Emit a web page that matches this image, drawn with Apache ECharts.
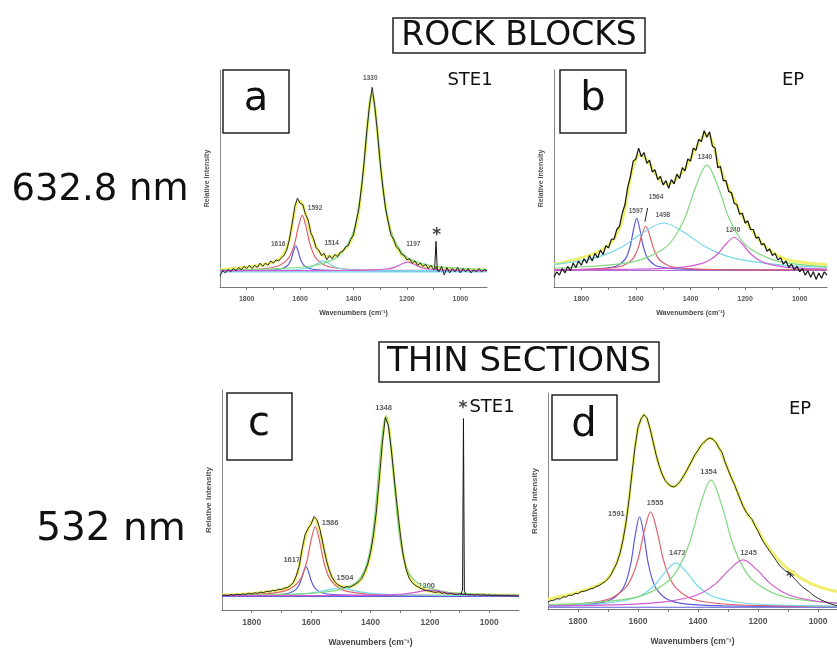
<!DOCTYPE html>
<html>
<head>
<meta charset="utf-8">
<title>Raman spectra - rock blocks and thin sections</title>
<script src="https://cdn.jsdelivr.net/npm/echarts@6/dist/echarts.min.js"></script>
<style>
html, body { margin:0; padding:0; background:#fff; }
#main { width:837px; height:652px; }
</style>
</head>
<body>
<div id="main"></div>
<script>
// wavenumbers of the measured spectra (cm-1)
var wn = [1900,1890,1880,1870,1860,1850,1840,1830,1820,1810,1800,1790,1780,1770,1760,1750,1740,1730,1720,1710,
  1700,1690,1680,1670,1660,1650,1640,1630,1620,1610,1600,1590,1580,1570,1560,1550,1540,1530,1520,1510,
  1500,1490,1480,1470,1460,1450,1440,1430,1420,1410,1400,1390,1380,1370,1360,1350,1340,1330,1320,1310,
  1300,1290,1280,1270,1260,1250,1240,1230,1220,1210,1200,1190,1180,1170,1160,1150,1140,1130,1120,1110,
  1100,1090,1080,1070,1060,1050,1040,1030,1020,1010,1000,990,980,970,960,950,940,930,920,910,900];
var tickMajor = [1000,1200,1400,1600,1800];
var tickAll = [1000,1100,1200,1300,1400,1500,1600,1700,1800];

// ---- a : rock block STE1, 632.8 nm ----
var specA = [5,7.5,6.5,8,7,8.5,7.5,9,8,9.5, 8.5,10,8.5,10,9,11,9.5,11,10,12,
  11,12.5,12,13.5,14.5,17,22,29,37,41, 38.5,38,33.5,31,25,22.5,18,17,14.5,15.5,
  12.5,14.5,13,15,14,16,16.5,18.5,19,22, 24,30,36,46,58,72,84,92,83,71,
  57,46,36,30,24,22,18.5,17.5,15,14.5, 12.5,13,11,12,10,11,9.5,10.5,8.5,10,
  8,9,7,9.5,5.5,9,6.5,8.5,7,9, 6.5,8.5,7,8.5,6.5,8,7,8.5,7,8, 7.5];
var spikeA = [[1096,8.6],[1091,21],[1086,7.5]];
var fitA = [[1900,8],[1850,8.6],[1800,9.2],[1750,10],[1700,11.5],[1680,12.8],[1660,15.5],[1640,22],[1625,32],[1612,39],
  [1600,39.5],[1590,37.5],[1575,32],[1560,25],[1540,18.5],[1520,15],[1500,14],[1480,14],[1460,15],[1440,16.5],
  [1420,19],[1400,24],[1380,35],[1360,57],[1345,78],[1332,89],[1320,83],[1305,64],[1290,46],[1270,30],
  [1250,21.5],[1230,16.5],[1200,13],[1170,11],[1140,9.8],[1100,9],[1050,8.4],[1000,8.1],[950,7.9],[900,7.8]];
var baseA = [[1900,7],[900,7]];
var a1616 = [[1900,7.55],[1776,7.61],[1712,7.81],[1680,8.18],[1664,8.65],[1648,9.8],[1640,11.04],[1632,13.25],[1624,16.7],[1616,19],
  [1608,16.7],[1600,13.25],[1592,11.04],[1584,9.8],[1568,8.65],[1552,8.18],[1520,7.81],[1456,7.61],[900,7.5]];
var a1592 = [[1900,7.8],[1760,8.19],[1704,9],[1676,10.05],[1648,12.6],[1634,15.35],[1620,20.25],[1606,27.9],[1592,33],
  [1578,27.9],[1564,20.25],[1550,15.35],[1536,12.6],[1508,10.05],[1480,9],[1424,8.19],[1312,7.75],[900,7.55]];
var a1514 = [[1900,7.53],[1724,7.62],[1654,7.76],[1619,7.95],[1584,8.4],[1566,8.88],[1549,9.75],[1531,11.1],[1514,12],
  [1496,11.1],[1479,9.75],[1461,8.88],[1444,8.4],[1409,7.95],[1374,7.76],[1304,7.62],[1164,7.54],[900,7.52]];
var a1330 = [[1900,7.9],[1710,8.3],[1558,9.69],[1482,12.26],[1444,15.6],[1406,23.7],[1387,32.4],[1368,48],[1349,72.3],[1330,88.5],
  [1311,72.3],[1292,48],[1273,32.4],[1254,23.7],[1216,15.6],[1178,12.26],[1102,9.69],[950,8.3],[900,8.1]];
var a1197 = [[1900,7.52],[1597,7.54],[1437,7.61],[1357,7.74],[1317,7.9],[1277,8.3],[1257,8.73],[1237,9.5],[1217,10.7],[1197,11.5],
  [1177,10.7],[1157,9.5],[1137,8.73],[1117,8.3],[1077,7.9],[1037,7.74],[957,7.61],[900,7.56]];
var labA = [[1337,96,'1330'],[1544,36.3,'1592'],[1682,19.7,'1616'],[1482,20.1,'1514'],[1176,19.7,'1197']];
var starA = [[1088,25.5]];

// ---- b : rock block EP, 632.8 nm ----
var specB = [4.5,7,5.5,8.5,6.5,9.5,7.5,11,9,12, 10,13,11,14.5,12,15.5,13.5,17,15,19,
  18,22,22,26.5,28,34,38,46,51,58, 59,64,60,62,57,58.5,53,54,49.5,51,
  47,49,45.5,49.5,47.5,52,50,55,53.5,59, 58,64,63,68,67,72,69,71.5,65,64,
  55,55.5,49,49,44,43.5,38.5,38,33.5,34, 29.5,30.5,26.5,26.5,22.5,23,19.5,20,16.5,17.5,
  14.5,15.5,12.5,13.5,10.5,12,9,10.5,8,9.5, 7,8.5,5.5,7.5,4.5,7,3.5,6.5,4,7, 5.5];
var fitB = [[1900,10.5],[1850,11.8],[1800,13.5],[1760,15],[1720,17.5],[1690,20.5],[1660,27],[1640,36],[1620,50],[1600,59],
  [1585,61],[1570,60],[1550,57],[1530,52.5],[1510,49],[1490,47.5],[1470,48],[1450,50],[1420,54.5],[1400,59],
  [1380,64],[1360,68.5],[1340,70.5],[1320,67],[1300,58],[1280,51],[1260,45.5],[1240,40.5],[1220,35],[1200,30.5],
  [1180,27],[1160,23.5],[1140,20.5],[1120,18],[1100,16],[1080,14.5],[1050,12.8],[1000,11.5],[950,10.8],[900,10.3]];
var baseB = [[1900,7.6],[900,7.6]];
var b1597 = [[1900,7.95],[1817,8.04],[1729,8.44],[1685,9.2],[1663,10.18],[1641,12.56],[1630,15.12],[1619,19.7],[1608,26.84],[1597,31.6],
  [1586,26.84],[1575,19.7],[1564,15.12],[1553,12.56],[1531,10.18],[1509,9.2],[1465,8.44],[1377,8.04],[900,7.82]];
var b1564 = [[1900,7.95],[1844,8],[1732,8.35],[1676,8.99],[1648,9.82],[1620,11.84],[1606,14],[1592,17.9],[1578,23.96],[1564,28],
  [1550,23.96],[1536,17.9],[1522,14],[1508,11.84],[1480,9.82],[1452,8.99],[1396,8.35],[1284,8],[900,7.85]];
var b1498 = [[1900,10.4],[1798,12.14],[1723,14.48],[1648,18.65],[1573,25.16],[1498,29.5],[1423,25.16],[1348,18.65],[1273,14.48],
  [1198,12.14],[1048,9.97],[900,9.1]];
var b1340 = [[1900,8.75],[1820,9.11],[1660,10.65],[1580,12.64],[1500,17.5],[1460,22.7],[1420,32],[1380,46.5],[1340,56.2],
  [1300,46.5],[1260,32],[1220,22.7],[1180,17.5],[1100,12.64],[1020,10.65],[900,9.3]];
var b1240 = [[1900,7.85],[1840,7.95],[1600,8.2],[1480,8.68],[1420,9.3],[1360,10.8],[1330,12.4],[1300,15.3],[1270,19.8],[1240,22.8],
  [1210,19.8],[1180,15.3],[1150,12.4],[1120,10.8],[1060,9.3],[1000,8.68],[900,8.3]];
var labB = [[1600,35,'1597'],[1526,41.5,'1564'],[1501,33,'1498'],[1347,60,'1340'],[1244,26,'1240']];
var slashB = [[1557,36.4],[1567,30.1]];

// ---- c : thin section STE1, 532 nm ----
var specC = [6.5,6.8,6.4,7,6.7,7.2,6.9,7.3,7.1,7.6, 7.3,7.8,7.6,8.1,7.9,8.5,8.3,8.9,8.8,9.4,
  9.3,9.9,10.2,11,12.5,15.5,20,28,34.5,37, 39,42.5,41,36.5,30,23.5,18.5,15,12.8,11.5,
  10.8,10.2,10.6,10.3,11,11.8,12.8,14.2,17,20.5, 26,34,45,60,76,87.5,84,73,60,47,
  35,25,18.5,14.5,12.5,11.3,10.5,9.8,9.2,8.8, 8.6,8.2,8,8.3,7.6,7.8,7.3,7.5,7.2,7.1,
  7.3,7.1,7.2,6.9,7,6.8,7,6.7,6.9,6.6, 6.8,6.5,6.7,6.5,6.6,6.4,6.6,6.4,6.5,6.3, 6.4];
var spikeC = [[1096,7.3],[1090,9],[1087,87],[1084,9],[1080,7.2]];
var fitC = [[1900,6.8],[1800,7.5],[1720,8.8],[1680,10.2],[1660,12.5],[1645,17],[1630,27],[1615,35],[1600,39.5],[1588,41.5],
  [1575,38],[1560,30],[1545,21],[1530,15],[1515,12],[1500,10.8],[1480,10.5],[1460,11],[1440,12.6],[1420,16.5],
  [1400,25],[1385,38],[1370,60],[1358,80],[1348,88],[1338,83],[1325,66],[1310,46],[1295,29],[1280,19],
  [1265,14],[1245,11],[1220,9.3],[1190,8.3],[1150,7.7],[1100,7.3],[1000,6.9],[900,6.7]];
var baseC = [[1900,6.2],[900,6.2]];
var c1617 = [[1900,6.55],[1797,6.63],[1725,6.86],[1689,7.28],[1671,7.82],[1653,9.14],[1644,10.56],[1635,13.1],[1626,17.06],[1617,19.7],
  [1608,17.06],[1599,13.1],[1590,10.56],[1581,9.14],[1563,7.82],[1545,7.28],[1509,6.86],[1437,6.63],[900,6.5]];
var c1586 = [[1900,6.75],[1754,7.35],[1698,8.35],[1670,9.64],[1642,12.78],[1628,16.16],[1614,22.2],[1600,31.6],[1586,37.9],
  [1572,31.6],[1558,22.2],[1544,16.16],[1530,12.78],[1502,9.64],[1474,8.35],[1418,7.35],[1306,6.81],[900,6.55]];
var c1504 = [[1900,6.53],[1784,6.71],[1714,6.85],[1644,7.2],[1609,7.58],[1574,8.25],[1539,9.3],[1504,10],
  [1469,9.3],[1434,8.25],[1399,7.58],[1364,7.2],[1294,6.85],[1224,6.71],[1084,6.59],[900,6.53]];
var c1348 = [[1900,6.7],[1700,7.1],[1598,7.6],[1548,8.3],[1498,9.5],[1448,12.5],[1418,19],[1398,30],[1385,44],[1368,70],[1358,82],[1348,88],
  [1338,82],[1328,70],[1311,44],[1298,30],[1278,19],[1248,13],[1198,9.8],[1148,8.3],[1098,7.6],[996,7.1],[900,6.9]];
var c1200 = [[1900,6.51],[1560,6.57],[1440,6.65],[1380,6.75],[1320,7],[1290,7.27],[1260,7.75],[1230,8.5],[1200,9],
  [1170,8.5],[1140,7.75],[1110,7.27],[1080,7],[1020,6.75],[960,6.65],[900,6.6]];
var labC = [[1356,91.7,'1348'],[1536,39.4,'1586'],[1665,22.7,'1617'],[1486,14.4,'1504'],[1211,10.9,'1200']];
var starC = [[1089,93.6]];

// ---- d : thin section EP, 532 nm ----
var specD = [3.2,3.9,4.1,4.8,4.6,5.6,5.5,6.4,6.3,7.2, 7.1,8,8.2,8.6,9.3,9.5,10.4,10.8,11.8,12.6,
  14,15.8,18.6,21.5,25.8,32,40,50.5,63,75, 84,88,90,88.5,83.5,77.5,71.5,66.5,62.5,59.5,
  58,56.8,56.5,57.5,59,61.2,63.5,66.2,68.8,71.5, 73.5,75.8,77.2,78.5,79.2,78.5,77,74.5,72.5,68,
  64.5,61,58,54.5,51,47.5,45,43,41.5,38.5, 36,33,30.5,28.5,26.5,24.5,22.5,20.5,19,17.8,
  16.8,15.8,14.2,12.8,11.2,10,9,8,6.8,5.8, 5,4.2,3.6,2.9,2.5,2,1.6,1.2,0.9,0.7, 0.5];
var fitD = [[1900,4.5],[1850,6],[1800,7.8],[1750,10],[1720,12],[1700,14.3],[1680,18.8],[1660,26],[1640,40.5],[1620,63],
  [1600,84],[1580,89.8],[1560,83.5],[1540,71.5],[1520,62.5],[1500,58],[1480,56.6],[1460,59],[1440,63.5],[1420,68.8],
  [1400,73.5],[1380,77.2],[1360,79],[1340,77],[1320,71.5],[1300,64.5],[1280,58],[1260,51],[1240,45],[1220,41],
  [1200,36.5],[1180,31.5],[1160,27.5],[1140,24],[1120,21],[1100,18.5],[1080,16.5],[1060,14.5],[1040,13],[1020,11.5],
  [1000,10.5],[980,9.5],[960,8.8],[940,8.2],[920,7.7],[900,7.3]];
var baseD = [[1900,0.8],[900,0.8]];
var d1591 = [[1900,1.5],[1875,1.41],[1763,2.13],[1707,3.45],[1679,5.17],[1651,9.34],[1637,13.83],[1623,21.85],[1609,34.4],[1595,42.7],
  [1581,34.4],[1567,21.85],[1553,13.83],[1539,9.34],[1511,5.17],[1483,3.45],[1427,2.13],[1315,1.41],[900,1.1]];
var d1555 = [[1900,1.6],[1810,2.19],[1726,3.59],[1684,5.4],[1642,9.8],[1621,14.54],[1600,23],[1579,36.2],[1558,45],
  [1537,36.2],[1516,23],[1495,14.54],[1474,9.8],[1432,5.4],[1390,3.59],[1306,2.19],[1138,1.44],[900,1.2]];
var d1472 = [[1900,1.55],[1754,2.19],[1684,3.02],[1614,5.04],[1579,7.22],[1544,11.1],[1509,17.16],[1474,21.2],
  [1439,17.16],[1404,11.1],[1369,7.22],[1334,5.04],[1264,3.02],[1194,2.19],[1054,1.55],[900,1.3]];
var d1354 = [[1900,2],[1789,2.58],[1645,4.45],[1573,6.87],[1501,12.74],[1465,19.06],[1429,30.35],[1393,47.96],[1357,59.7],
  [1321,47.96],[1285,30.35],[1249,19.06],[1213,12.74],[1141,6.87],[1069,4.45],[925,2.58],[900,2.4]];
var d1245 = [[1900,1.5],[1790,1.59],[1610,2.28],[1520,3.17],[1430,5.34],[1385,7.68],[1340,11.85],[1295,18.36],[1250,22.7],
  [1205,18.36],[1160,11.85],[1115,7.68],[1070,5.34],[980,3.17],[900,2.45]];
var labD = [[1672,43.8,'1591'],[1543,49,'1555'],[1469,25.8,'1472'],[1365,63.3,'1354'],[1232,25.8,'1245']];
var starD = [[1092,16.5]];

var COL = {
    blue: '#5c5cd8', red: '#e2606c', cyan: '#74d8e8', green: '#80d880',
    mag: '#d25ad2', yellow: '#f0f070', base: '#b070d8'
};

// panel d runs off the right edge of the figure, so its axis stops at 937
var grids = [
    {left:220, top:70, width:267, height:217},
    {left:554, top:70, width:273, height:217},
    {left:222, top:390, width:297, height:220},
    {left:548, top:393, width:289, height:216}
];
var xMin = [900, 900, 900, 937];
var small = [true, true, false, false];

function pairs(vals) {
    return wn.map(function (w, i) { return [w, vals[i]]; });
}

function lineSeries(g, data, color, width, smooth) {
    return {
        type: 'line', xAxisIndex: g, yAxisIndex: g, data: data,
        symbol: 'none', smooth: smooth, silent: true,
        lineStyle: {color: color, width: width}
    };
}

function labelSeries(g, list, size) {
    return {
        type: 'scatter', xAxisIndex: g, yAxisIndex: g, symbolSize: 1, silent: true,
        itemStyle: {color: 'rgba(0,0,0,0)'},
        data: list.map(function (l) {
            return {value: [l[0], l[1]], label: {formatter: l[2]}};
        }),
        label: {show: true, position: 'inside', fontSize: size, fontWeight: 'bold',
            color: '#333', fontFamily: 'Liberation Sans'}
    };
}

function starSeries(g, list) {
    return {
        type: 'scatter', xAxisIndex: g, yAxisIndex: g, symbolSize: 1, silent: true,
        itemStyle: {color: 'rgba(0,0,0,0)'},
        data: list,
        label: {show: true, position: 'inside', formatter: '*', fontSize: 17, fontWeight: 'bold',
            color: '#111', fontFamily: 'DejaVu Sans', offset: [0, 4]}
    };
}

var panels = [
    {fit: fitA, comps: [[baseA, COL.cyan], [a1616, COL.blue], [a1592, COL.red], [a1514, COL.cyan], [a1330, COL.green], [a1197, COL.mag]],
        spec: specA, spike: spikeA, lab: labA, star: starA, w: 0.9},
    {fit: fitB, comps: [[baseB, COL.base], [b1597, COL.blue], [b1564, COL.red], [b1498, COL.cyan], [b1340, COL.green], [b1240, COL.mag]],
        spec: specB, spike: null, lab: labB, star: null, w: 1.2},
    {fit: fitC, comps: [[baseC, COL.blue], [c1617, COL.blue], [c1586, COL.red], [c1504, COL.cyan], [c1348, COL.green], [c1200, COL.mag]],
        spec: specC, spike: spikeC, lab: labC, star: starC, w: 0.9},
    {fit: fitD, comps: [[baseD, COL.blue], [d1591, COL.blue], [d1555, COL.red], [d1472, COL.cyan], [d1354, COL.green], [d1245, COL.mag]],
        spec: specD, spike: null, lab: labD, star: starD, w: 0.9}
];

var series = [];
panels.forEach(function (p, g) {
    series.push(lineSeries(g, p.fit, COL.yellow, 3, 0.3));
    p.comps.forEach(function (c) {
        series.push(lineSeries(g, c[0], c[1], 1.2, 0.35));
    });
    series.push(lineSeries(g, pairs(p.spec), '#151515', p.w, false));
    if (p.spike) series.push(lineSeries(g, p.spike, '#151515', 1, false));
    series.push(labelSeries(g, p.lab, small[g] ? 6.5 : 7.5));
    if (p.star) series.push(starSeries(g, p.star));
});
series.push(lineSeries(1, slashB, '#222', 1, false));

var xAxes = grids.map(function (gr, g) {
    var fs = small[g] ? 7 : 8.5;
    return {
        type: 'value', gridIndex: g, min: xMin[g], max: 1900, inverse: true,
        axisLine: {onZero: false, lineStyle: {color: '#777', width: 1}},
        axisTick: {show: true, customValues: tickAll, length: 3, lineStyle: {color: '#777'}},
        axisLabel: {customValues: tickMajor, fontSize: fs, fontWeight: 'bold', color: '#555',
            fontFamily: 'Liberation Sans', margin: small[g] ? 9 : 8,
            formatter: function (v) { return String(v); }},
        splitLine: {show: false},
        name: 'Wavenumbers (cm\u207B\u00B9)', nameLocation: 'middle', nameGap: small[g] ? 23 : 28,
        nameTextStyle: {fontSize: fs, fontWeight: 'bold', color: '#444', fontFamily: 'Liberation Sans'}
    };
});
var yAxes = grids.map(function (gr, g) {
    return {
        type: 'value', gridIndex: g, min: 0, max: 100,
        axisLine: {show: true, onZero: false, lineStyle: {color: '#888', width: 1}},
        axisTick: {show: false}, axisLabel: {show: false}, splitLine: {show: false},
        name: 'Relative Intensity', nameLocation: 'middle', nameRotate: 90, nameGap: 9,
        nameTextStyle: {fontSize: small[g] ? 7 : 8, fontWeight: 'bold', color: '#555', fontFamily: 'Liberation Sans'}
    };
});

function txt(x, y, s, size) {
    return {type: 'text', x: x, y: y, z: 10,
        style: {text: s, font: size + 'px "DejaVu Sans"', fill: '#111',
            textAlign: 'center', textVerticalAlign: 'middle', align: 'center', verticalAlign: 'middle'}};
}
function box(x, y, w, h) {
    return {type: 'rect', z: 10, shape: {x: x, y: y, width: w, height: h},
        style: {fill: '#fff', stroke: '#222', lineWidth: 1.5}};
}

var graphic = [
    box(393, 18, 252, 35), txt(519, 36, 'ROCK BLOCKS', 33),
    box(379, 342, 280, 40), txt(519, 362, 'THIN SECTIONS', 34),
    txt(100, 190, '632.8 nm', 37), txt(111, 530, '532 nm', 39),
    box(223, 70, 66, 63), txt(256, 100, 'a', 40),
    box(560, 70, 66, 63), txt(593, 100, 'b', 40),
    box(227, 393, 65, 67), txt(259, 425, 'c', 40),
    box(552, 395, 65, 65), txt(584, 426, 'd', 40),
    txt(470, 80, 'STE1', 18), txt(793, 80, 'EP', 18),
    txt(492, 407, 'STE1', 18), txt(800, 409, 'EP', 18)
];

var myChart = echarts.init(document.getElementById('main'));
var option = {
    animation: false,
    backgroundColor: '#fff',
    grid: grids,
    xAxis: xAxes,
    yAxis: yAxes,
    series: series,
    graphic: graphic
};
myChart.setOption(option);
</script>
</body>
</html>
